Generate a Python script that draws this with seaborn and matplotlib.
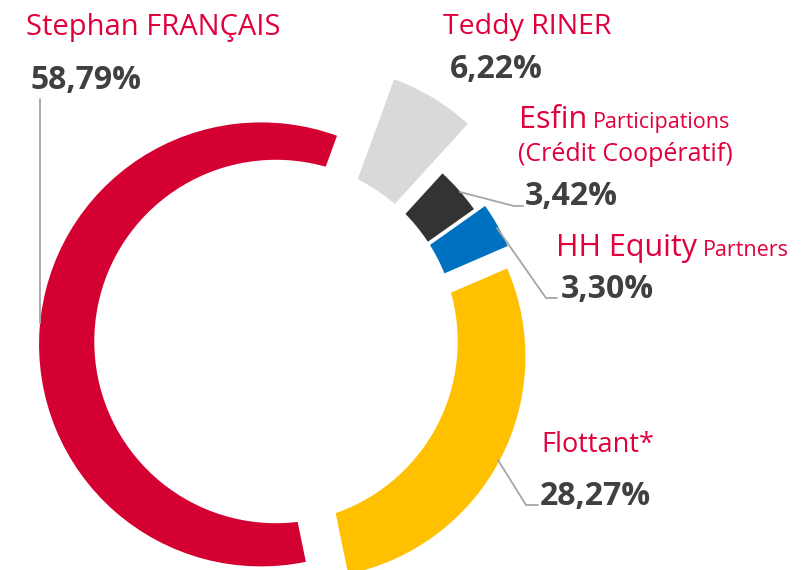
import matplotlib
matplotlib.use("Agg")
import matplotlib.pyplot as plt
import seaborn as sns

# ---- data ----
holders = ["Teddy RINER", "Esfin Participations (Crédit Coopératif)",
           "HH Equity Partners", "Flottant*", "Stephan FRANÇAIS"]
shares = [6.22, 3.42, 3.30, 28.27, 58.79]
pct_labels = ["6,22%", "3,42%", "3,30%", "28,27%", "58,79%"]
colors = ["#D9D9D9", "#333333", "#0070C0", "#FFC000", "#D50032"]
explode_px = [68, 13, 24, 23, 22]

sns.set_theme(style="white")
plt.rcParams["font.family"] = ["Open Sans", "DejaVu Sans"]

W, H = 801, 570
fig = plt.figure(figsize=(W / 100, H / 100), dpi=100)
ax = fig.add_axes([0, 0, 1, 1])

def Y(y):  # image y (top-down) -> axes y
    return H - y

cx, cy = 283, Y(346)
R = 222
ax.pie(shares, colors=sns.color_palette(colors), startangle=70,
       counterclock=False, explode=explode_px, radius=R, center=(cx, cy),
       wedgeprops=dict(linewidth=0), frame=True)
ax.set_xlim(0, W)
ax.set_ylim(0, H)
ax.set_aspect("equal")
ax.axis("off")
ax.add_patch(plt.Circle((276, Y(341.5)), 181, color="white", zorder=5))

red = "#E0003C"
dark = "#404040"
big = 21
pct = 23
small = 15.5

def txt(x, y, s, size, bold=False, color=red):
    return ax.text(x, Y(y), s, color=color, fontsize=size,
                   fontweight="bold" if bold else "normal",
                   va="baseline", ha="left", zorder=6)

txt(26, 35, "Stephan FRANÇAIS", big)
txt(30, 89, pct_labels[4], pct, True, dark)

txt(443, 34, "Teddy RINER", 20.5)
txt(450, 78, pct_labels[0], pct, True, dark)

t = txt(519, 128, "Esfin", 22)
fig.canvas.draw()
ax.text(t.get_window_extent().x1 + 6, Y(128), "Participations", color=red,
        fontsize=small, va="baseline", zorder=6)
txt(518, 161, "(Crédit Coopératif)", 18)
txt(525, 205, pct_labels[1], pct, True, dark)

t = txt(556, 256, "HH Equity", 22)
fig.canvas.draw()
ax.text(t.get_window_extent().x1 + 6, Y(256), "Partners", color=red,
        fontsize=small, va="baseline", zorder=6)
txt(561, 298, pct_labels[2], pct, True, dark)

txt(541, 452, "Flottant*", 19.5)
txt(540, 505, pct_labels[3], pct, True, dark)

# leader lines
lc = "#A6A6A6"
ax.plot([40, 40], [Y(99), Y(323)], color=lc, lw=1.3, zorder=7)
ax.plot([460, 514, 523], [Y(192), Y(206), Y(206)], color=lc, lw=1.3, zorder=7)
ax.plot([497, 546, 557], [Y(228), Y(298), Y(298)], color=lc, lw=1.3, zorder=7)
ax.plot([498, 526, 538], [Y(460), Y(505), Y(505)], color=lc, lw=1.3, zorder=7)

fig.savefig("out.png", dpi=100, facecolor="white")
